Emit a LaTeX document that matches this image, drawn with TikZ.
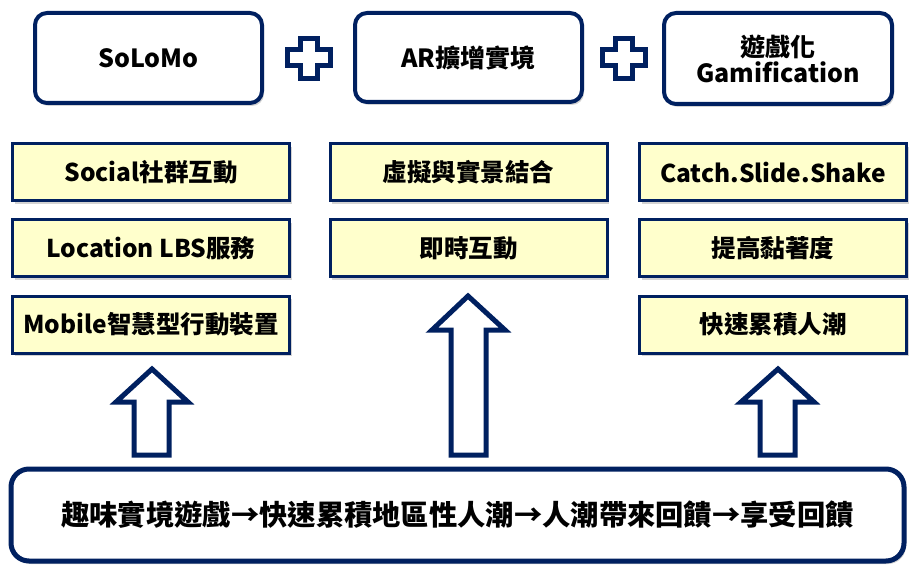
\documentclass[tikz,border=0pt]{standalone}
\usepackage{fontspec}
\setmainfont{Noto Sans CJK TC}
\usetikzlibrary{shadows}
\definecolor{navy}{RGB}{0,32,96}
\definecolor{lightyel}{RGB}{255,255,204}
\tikzset{
  topbox/.style={draw=navy, line width=4pt, fill=white, rounded corners=12pt,
    drop shadow={shadow xshift=2pt, shadow yshift=-3pt, opacity=0.35},
    align=center, font=\bfseries\fontsize{25}{29}\selectfont},
  itembox/.style={draw=navy, line width=3pt, fill=lightyel,
    drop shadow={shadow xshift=2pt, shadow yshift=-3pt, opacity=0.35},
    font=\bfseries\fontsize{24.5}{28}\selectfont},
  basebox/.style={draw=navy, line width=5pt, fill=white, rounded corners=18pt,
    drop shadow={shadow xshift=2pt, shadow yshift=-3pt, opacity=0.35},
    font=\bfseries\fontsize{28.3}{32}\selectfont},
  blockarrow/.style={draw=navy, line width=5pt, fill=white, line join=miter},
  plusshape/.style={draw=navy, line width=5pt, fill=white, line join=miter}
}
\begin{document}
\begin{tikzpicture}[x=1pt, y=-1pt]
\useasboundingbox (0,0) rectangle (909,567);

% top boxes
\node[topbox, minimum width=227pt, minimum height=90pt] (solomo) at (148.5,58) {SoLoMo};
\node[topbox, minimum width=227pt, minimum height=89pt] (ar) at (468.5,57.5) {AR擴增實境};
\node[topbox, minimum width=228pt, minimum height=91pt] (gam) at (778,58.5) {遊戲化\\[-3pt]Gamification};

% plus signs
\foreach \dx in {0,315} {
  \draw[plusshape, xshift=\dx pt]
    (300.5,38.5) -- (317.5,38.5) -- (317.5,49.5) -- (330.5,49.5) -- (330.5,65.5)
    -- (317.5,65.5) -- (317.5,78.5) -- (300.5,78.5) -- (300.5,65.5) -- (287.5,65.5)
    -- (287.5,49.5) -- (300.5,49.5) -- cycle;
}

% column 1
\node[itembox, minimum width=277pt, minimum height=57pt] (s1) at (151,172) {Social社群互動};
\node[itembox, minimum width=277pt, minimum height=57pt] (s2) at (151,248) {Location LBS服務};
\node[itembox, minimum width=277pt, minimum height=57pt] (s3) at (151,324.5) {Mobile智慧型行動裝置};
% column 2
\node[itembox, minimum width=277pt, minimum height=57pt] (a1) at (468.5,172) {虛擬與實景結合};
\node[itembox, minimum width=277pt, minimum height=57pt] (a2) at (468.5,248) {即時互動};
% column 3
\node[itembox, minimum width=267pt, minimum height=57pt] (g1) at (773,172) {Catch.Slide.Shake};
\node[itembox, minimum width=267pt, minimum height=57pt] (g2) at (773,248) {提高黏著度};
\node[itembox, minimum width=267pt, minimum height=57pt] (g3) at (773,324.5) {快速累積人潮};

% block arrows
\draw[blockarrow] (152,369) -- (188,402) -- (169,402) -- (169,455) -- (134,455)
  -- (134,402) -- (116,402) -- cycle;
\draw[blockarrow] (468,296) -- (505,330) -- (486,330) -- (486,455) -- (451,455)
  -- (451,330) -- (432,330) -- cycle;
\draw[blockarrow] (778,369) -- (814,402) -- (795,402) -- (795,455) -- (760,455)
  -- (760,402) -- (741,402) -- cycle;

% base box
\node[basebox, minimum width=893pt, minimum height=92pt] (base) at (457.5,515) {趣味實境遊戲→快速累積地區性人潮→人潮帶來回饋→享受回饋};
\end{tikzpicture}
\end{document}
